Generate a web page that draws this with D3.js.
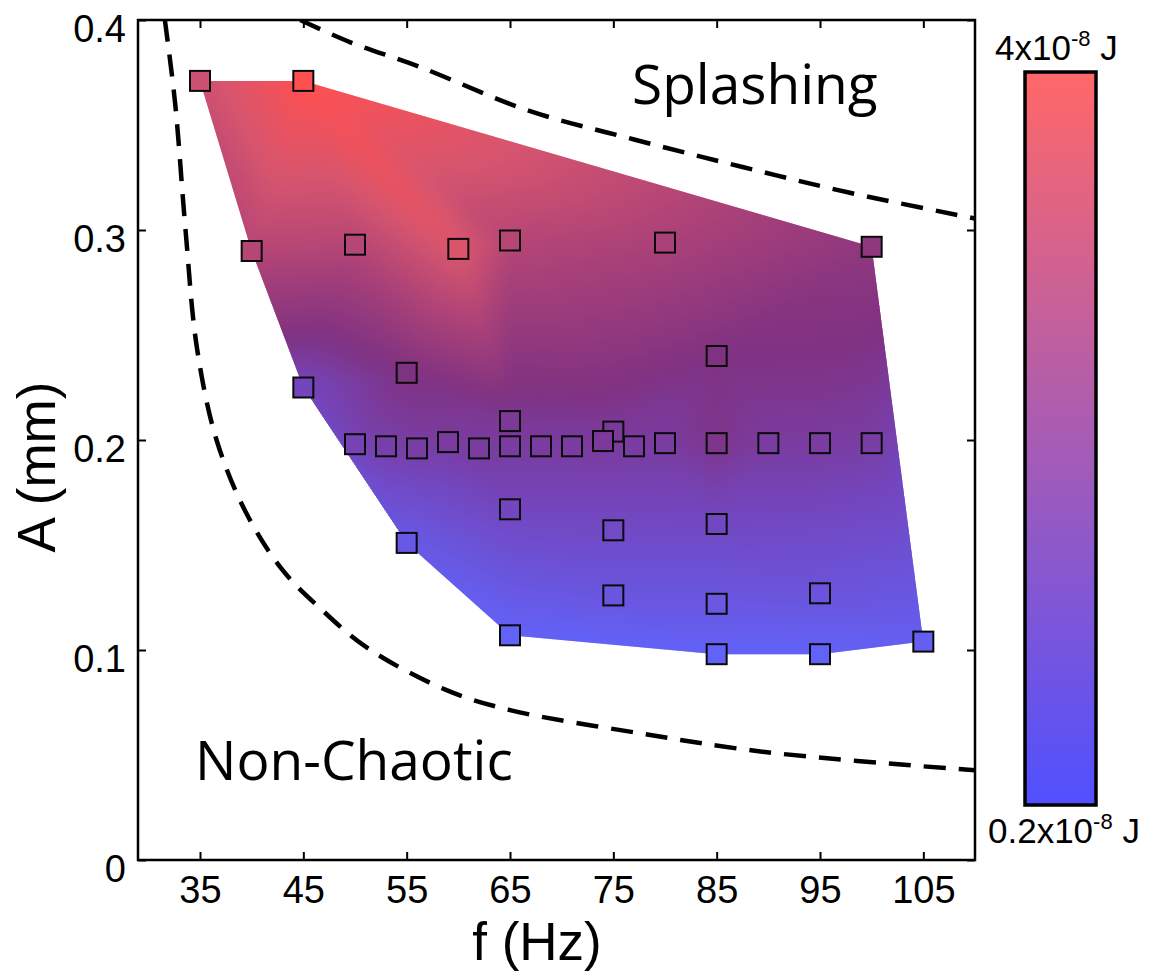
<!DOCTYPE html>
<html>
<head>
<meta charset="utf-8">
<script src="https://cdn.jsdelivr.net/npm/d3@7"></script>
<style>
  body { margin: 0; background: #fff; }
  text { font-family: "Liberation Sans", Arial, sans-serif; }
</style>
</head>
<body>
<svg id="chart" width="1152" height="971"></svg>
<script>
// measured points: frequency (Hz), amplitude (mm), energy (x1e-8 J)
const freq = [35, 45, 40, 50, 60, 65, 80, 100, 45, 55, 85, 65, 75,
  50, 53, 56, 59, 62, 65, 68, 71, 74, 77, 80, 85, 90, 95, 100,
  65, 75, 85, 55, 75, 85, 95, 65, 85, 95, 105];
const amp = [0.371, 0.371, 0.290, 0.293, 0.291, 0.295, 0.294, 0.292, 0.225, 0.232, 0.240, 0.209, 0.204,
  0.198, 0.197, 0.196, 0.199, 0.196, 0.197, 0.197, 0.197, 0.1995, 0.197, 0.1985, 0.1985, 0.1985, 0.1985, 0.1985,
  0.167, 0.157, 0.160, 0.151, 0.126, 0.122, 0.127, 0.107, 0.098, 0.098, 0.104];
const energy = [3.0, 4.0, 2.6, 2.6, 3.3, 2.6, 2.4, 1.9, 1.0, 1.6, 1.6, 1.4, 1.35,
  1.1, 1.2, 1.25, 1.3, 1.3, 1.3, 1.3, 1.3, 1.35, 1.3, 1.3, 1.5, 1.3, 1.3, 1.25,
  1.0, 0.9, 0.95, 0.45, 0.55, 0.5, 0.6, 0.2, 0.2, 0.2, 0.3];

// regime boundaries
const lowerF = [31.6, 32.6, 33.6, 34.7, 36.6, 39.5, 43.0, 46.6, 51.2, 58.8, 65.0, 77.4, 89.7, 110];
const lowerA = [0.400, 0.360, 0.300, 0.244, 0.200, 0.165, 0.138, 0.120, 0.101, 0.081, 0.0714, 0.0605, 0.0514, 0.0427];
const upperF = [44.7, 49.5, 56.3, 66.7, 77.1, 87.5, 98.0, 110];
const upperA = [0.400, 0.3895, 0.3776, 0.357, 0.343, 0.330, 0.3176, 0.3055];

const xTicks = [35, 45, 55, 65, 75, 85, 95, 105];
const yTicks = [0, 0.1, 0.2, 0.3, 0.4];

const cmapStops = [0.2, 1.0, 1.6, 2.4, 3.2, 4.0];
const cmapColors = ['#6262f8', '#7346be', '#803282', '#aa4178', '#d7556e', '#ff5050'];
const barColors = ['#5050ff', '#ff6868'];

const svg = d3.select('#chart');
const x = d3.scaleLinear().domain([29, 110]).range([138, 975]);
const y = d3.scaleLinear().domain([0, 0.4]).range([860, 20]);
const color = d3.scaleLinear().domain(cmapStops).range(cmapColors)
  .interpolate(d3.interpolateRgb).clamp(true);

// interpolated energy surface, rasterised per triangle
const pts = freq.map((f, i) => [x(f), y(amp[i]), energy[i]]);
const delaunay = d3.Delaunay.from(pts, d => d[0], d => d[1]);
const W = 1152, H = 971;
const raw = document.createElement('canvas');
raw.width = W; raw.height = H;
const rctx = raw.getContext('2d');
const img = rctx.createImageData(W, H);
const tri = delaunay.triangles;
for (let t = 0; t < tri.length; t += 3) {
  const a = pts[tri[t]], b = pts[tri[t + 1]], c = pts[tri[t + 2]];
  const det = (b[1] - c[1]) * (a[0] - c[0]) + (c[0] - b[0]) * (a[1] - c[1]);
  if (Math.abs(det) < 1e-9) continue;
  const minX = Math.floor(Math.min(a[0], b[0], c[0])) - 1, maxX = Math.ceil(Math.max(a[0], b[0], c[0])) + 1;
  const minY = Math.floor(Math.min(a[1], b[1], c[1])) - 1, maxY = Math.ceil(Math.max(a[1], b[1], c[1])) + 1;
  for (let py = minY; py <= maxY; py++) {
    for (let px = minX; px <= maxX; px++) {
      const sx = px + 0.5, sy = py + 0.5;
      const l1 = ((b[1] - c[1]) * (sx - c[0]) + (c[0] - b[0]) * (sy - c[1])) / det;
      const l2 = ((c[1] - a[1]) * (sx - c[0]) + (a[0] - c[0]) * (sy - c[1])) / det;
      const l3 = 1 - l1 - l2;
      if (l1 < -0.01 || l2 < -0.01 || l3 < -0.01) continue;
      const v = l1 * a[2] + l2 * b[2] + l3 * c[2];
      const col = d3.rgb(color(v));
      const k = (py * W + px) * 4;
      img.data[k] = col.r; img.data[k + 1] = col.g; img.data[k + 2] = col.b; img.data[k + 3] = 255;
    }
  }
}
rctx.putImageData(img, 0, 0);

// smooth the facets a little and keep it inside the hull
const canvas = document.createElement('canvas');
canvas.width = W; canvas.height = H;
const ctx = canvas.getContext('2d');
ctx.save();
ctx.beginPath();
delaunay.renderHull(ctx);
ctx.clip();
ctx.drawImage(raw, 0, 0);
ctx.filter = 'blur(7px)';
ctx.drawImage(raw, 0, 0);
ctx.restore();
svg.append('image').attr('x', 0).attr('y', 0).attr('width', W).attr('height', H)
  .attr('href', canvas.toDataURL());

svg.append('clipPath').attr('id', 'plotclip')
  .append('rect').attr('x', 138).attr('y', 20).attr('width', 837).attr('height', 840);

const line = d3.line().x(d => x(d[0])).y(d => y(d[1])).curve(d3.curveCatmullRom);
[[lowerF, lowerA], [upperF, upperA]].forEach(([fs, as]) => {
  svg.append('path')
    .datum(fs.map((f, i) => [f, as[i]]))
    .attr('d', line)
    .attr('clip-path', 'url(#plotclip)')
    .attr('fill', 'none')
    .attr('stroke', '#000')
    .attr('stroke-width', 4.5)
    .attr('stroke-dasharray', '22,13');
});

// markers
const sq = 20;
svg.append('g').selectAll('rect')
  .data(pts)
  .join('rect')
  .attr('x', d => d[0] - sq / 2)
  .attr('y', d => d[1] - sq / 2)
  .attr('width', sq).attr('height', sq)
  .attr('fill', d => color(d[2]))
  .attr('stroke', '#0a0a0a')
  .attr('stroke-width', 2);

// axes box with inward ticks
svg.append('rect').attr('x', 138).attr('y', 20).attr('width', 837).attr('height', 840)
  .attr('fill', 'none').attr('stroke', '#000').attr('stroke-width', 2.5);

const gBottom = svg.append('g').attr('transform', 'translate(0,860)')
  .call(d3.axisBottom(x).tickValues(xTicks).tickSizeInner(-8).tickSizeOuter(0));
const gTop = svg.append('g').attr('transform', 'translate(0,20)')
  .call(d3.axisTop(x).tickValues(xTicks).tickSizeInner(-8).tickSizeOuter(0).tickFormat(''));
const gLeft = svg.append('g').attr('transform', 'translate(138,0)')
  .call(d3.axisLeft(y).tickValues(yTicks).tickSizeInner(-8).tickSizeOuter(0)
    .tickFormat(d => d === 0 ? '0' : d3.format('.1f')(d)));
const gRight = svg.append('g').attr('transform', 'translate(975,0)')
  .call(d3.axisRight(y).tickValues(yTicks).tickSizeInner(-8).tickSizeOuter(0).tickFormat(''));
[gBottom, gTop, gLeft, gRight].forEach(g => {
  g.select('.domain').remove();
  g.selectAll('.tick line').attr('stroke', '#000').attr('stroke-width', 2);
});
gBottom.selectAll('.tick text')
  .attr('font-size', 38).attr('fill', '#000').attr('dy', null).attr('y', 43);
gLeft.selectAll('.tick text')
  .attr('font-size', 38).attr('fill', '#000').attr('dy', 21).attr('x', -12);

svg.append('text').attr('x', 537).attr('y', 960).attr('text-anchor', 'middle')
  .attr('font-size', 53).text('f (Hz)');
svg.append('text').attr('transform', 'translate(55,467) rotate(-90)').attr('text-anchor', 'middle')
  .attr('font-size', 53).text('A (mm)');

// region labels
svg.append('text').attr('x', 632).attr('y', 104)
  .style('font-family', '"Open Sans", sans-serif').attr('font-size', 55).text('Splashing');
svg.append('text').attr('x', 195).attr('y', 780)
  .style('font-family', '"Open Sans", sans-serif').attr('font-size', 55).text('Non-Chaotic');

// colour bar
const grad = svg.append('defs').append('linearGradient').attr('id', 'cbar')
  .attr('x1', 0).attr('y1', 1).attr('x2', 0).attr('y2', 0);
grad.selectAll('stop').data(barColors).join('stop')
  .attr('offset', (d, i) => i).attr('stop-color', d => d);
svg.append('rect').attr('x', 1025).attr('y', 72).attr('width', 71).attr('height', 733)
  .attr('fill', 'url(#cbar)').attr('stroke', '#000').attr('stroke-width', 3.5);

const topLab = svg.append('text').attr('x', 995).attr('y', 60).attr('font-size', 35);
topLab.append('tspan').text('4x10');
topLab.append('tspan').attr('font-size', 22).attr('dy', -14).text('-8');
topLab.append('tspan').attr('dy', 14).text(' J');
const botLab = svg.append('text').attr('x', 988).attr('y', 843).attr('font-size', 35);
botLab.append('tspan').text('0.2x10');
botLab.append('tspan').attr('font-size', 22).attr('dy', -14).text('-8');
botLab.append('tspan').attr('dy', 14).text(' J');
</script>
</body>
</html>
